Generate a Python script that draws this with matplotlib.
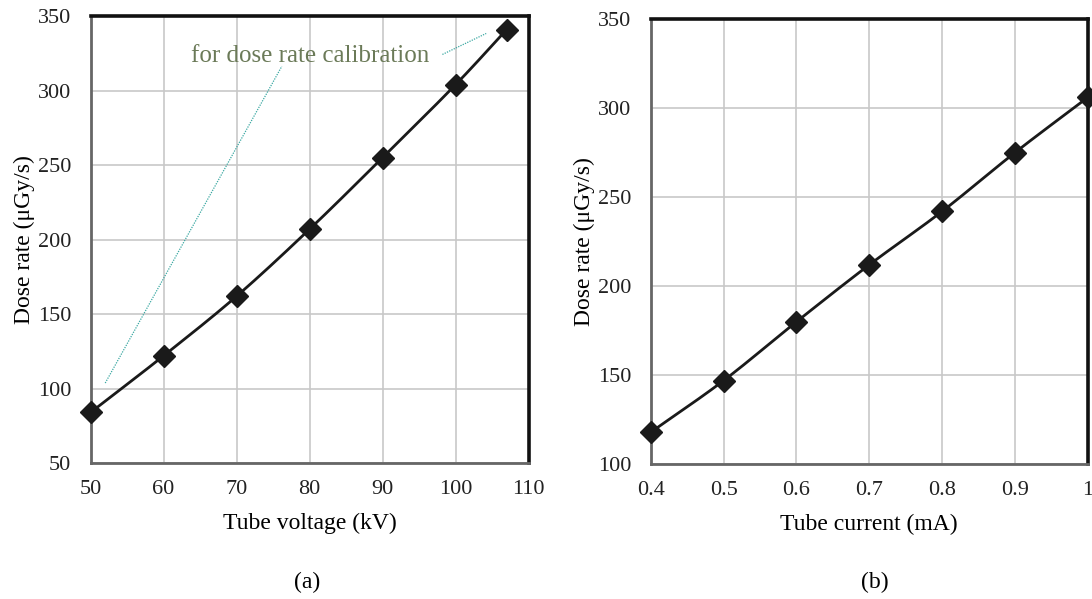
import numpy as np
import matplotlib
matplotlib.use("Agg")
import matplotlib.pyplot as plt

plt.rcParams['font.family'] = ['Liberation Serif', 'DejaVu Serif']

voltage = [50, 60, 70, 80, 90, 100, 107]
dose_v = [84, 122, 162, 207, 255, 304, 341]
current = [0.4, 0.5, 0.6, 0.7, 0.8, 0.9, 1.0]
dose_c = [118, 147, 180, 212, 242, 275, 306]

v_ticks = [50, 60, 70, 80, 90, 100, 110]
v_yticks = [50, 100, 150, 200, 250, 300, 350]
c_ticks = [0.4, 0.5, 0.6, 0.7, 0.8, 0.9, 1.0]
c_tick_labels = ['0.4', '0.5', '0.6', '0.7', '0.8', '0.9', '1']
c_yticks = [100, 150, 200, 250, 300, 350]


def smooth(x, y, n=30):
    # catmull-rom curve through the points, like excel's smoothed line
    x = np.asarray(x, float)
    y = np.asarray(y, float)
    px = np.concatenate([[2 * x[0] - x[1]], x, [2 * x[-1] - x[-2]]])
    py = np.concatenate([[2 * y[0] - y[1]], y, [2 * y[-1] - y[-2]]])
    t = np.linspace(0, 1, n)[:, None]
    xs, ys = [], []
    for i in range(1, len(px) - 2):
        for p, out in ((px, xs), (py, ys)):
            p0, p1, p2, p3 = p[i - 1], p[i], p[i + 1], p[i + 2]
            seg = 0.5 * ((2 * p1) + (-p0 + p2) * t + (2 * p0 - 5 * p1 + 4 * p2 - p3) * t ** 2
                         + (-p0 + 3 * p1 - 3 * p2 + p3) * t ** 3)
            out.append(seg.ravel())
    return np.concatenate(xs), np.concatenate(ys)


def style(ax):
    ax.grid(True, color='#c8c8c8', lw=1.2)
    ax.set_axisbelow(True)
    ax.tick_params(length=0, labelsize=16, pad=12, colors='#222222')
    ax.tick_params(axis='y', pad=14)
    for s in ['top', 'right']:
        ax.spines[s].set_color('#111111')
        ax.spines[s].set_linewidth(2.6)
    for s in ['left', 'bottom']:
        ax.spines[s].set_color('#666666')
        ax.spines[s].set_linewidth(2.0)


fig = plt.figure(figsize=(10.92, 5.99), dpi=100)
ax1 = fig.add_axes([0.083, 0.227, 0.401, 0.746])
ax2 = fig.add_axes([0.596, 0.225, 0.400, 0.743])

sx, sy = smooth(voltage, dose_v)
ax1.plot(sx, sy, color='#1a1a1a', lw=2, zorder=3)
ax1.plot(voltage, dose_v, 'D', color='#1a1a1a', ms=11, zorder=4, clip_on=False)
ax1.set_xlim(50, 110)
ax1.set_ylim(50, 350)
ax1.set_xticks(v_ticks)
ax1.set_yticks(v_yticks)
ax1.set_xlabel('Tube voltage (kV)', fontsize=17, labelpad=10)
ax1.set_ylabel('Dose rate (μGy/s)', fontsize=17, labelpad=2)
style(ax1)

ax1.text(80.1, 323, 'for dose rate calibration', color='#6b7a58', fontsize=18,
         ha='center', va='center')
ax1.plot([52.0, 76.2], [103.7, 316.4], color='#3aa8a2', lw=0.9, ls=(0, (1, 1)))
ax1.plot([98.2, 104.2], [324.3, 338.4], color='#3aa8a2', lw=0.9, ls=(0, (1, 1)))

sx, sy = smooth(current, dose_c)
ax2.plot(sx, sy, color='#1a1a1a', lw=2, zorder=3)
ax2.plot(current, dose_c, 'D', color='#1a1a1a', ms=11, zorder=4, clip_on=False)
ax2.set_xlim(0.4, 1.0)
ax2.set_ylim(100, 350)
ax2.set_xticks(c_ticks)
ax2.set_xticklabels(c_tick_labels)
ax2.set_yticks(c_yticks)
ax2.set_xlabel('Tube current (mA)', fontsize=17, labelpad=10)
ax2.set_ylabel('Dose rate (μGy/s)', fontsize=17, labelpad=2)
style(ax2)

fig.text(0.281, 0.028, '(a)', fontsize=17, ha='center', va='center')
fig.text(0.801, 0.028, '(b)', fontsize=17, ha='center', va='center')

fig.savefig('out.png', dpi=100)
